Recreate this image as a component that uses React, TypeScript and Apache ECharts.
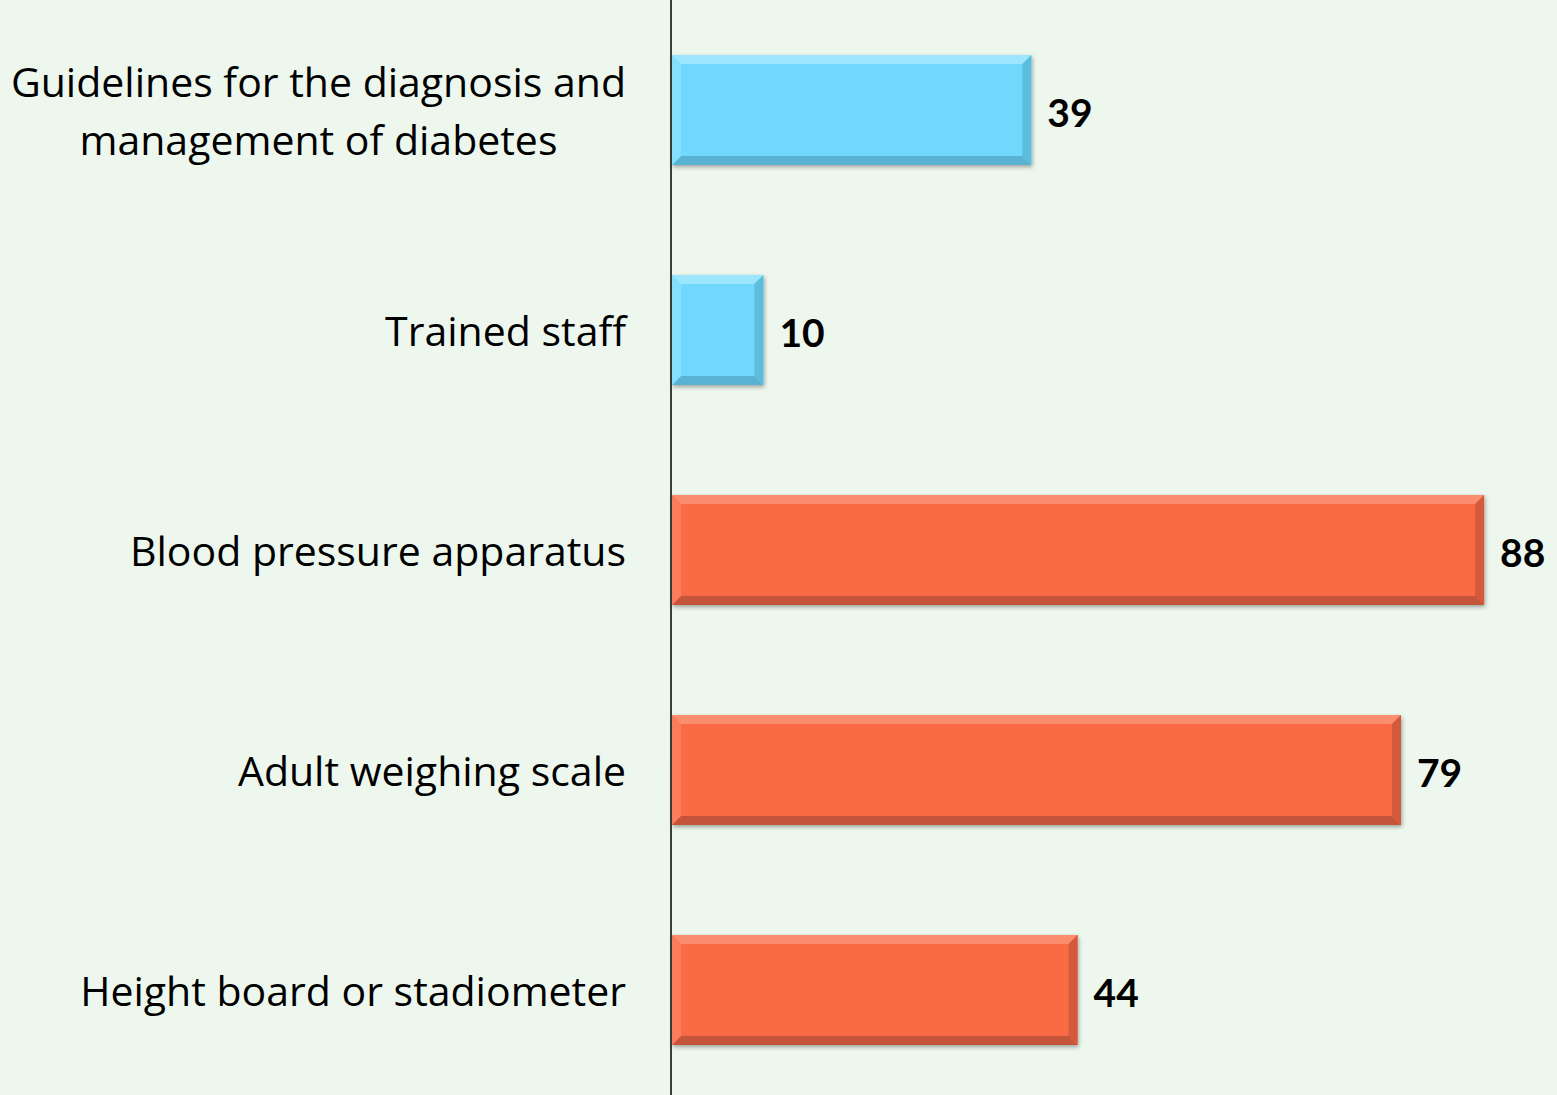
import React, { useEffect, useRef } from "react";
import * as echarts from "echarts";

const categories = [
  "Guidelines for the diagnosis and\nmanagement of diabetes",
  "Trained staff",
  "Blood pressure apparatus",
  "Adult weighing scale",
  "Height board or stadiometer",
];
const values = [39, 10, 88, 79, 44];
const groups = ["resource", "resource", "equipment", "equipment", "equipment"];

const palette: Record<string, { main: string; top: string; bottom: string; left: string; right: string }> = {
  resource: { main: "#70D8FC", top: "#9CE7FE", bottom: "#5AB2D3", left: "#84DFFD", right: "#5EBCDD" },
  equipment: { main: "#F96B45", top: "#FA8E6F", bottom: "#C4553B", left: "#FA7D5C", right: "#D35A3D" },
};

export default function App() {
  const ref = useRef<HTMLDivElement>(null);
  useEffect(() => {
    if (!ref.current) return;
    const chart = echarts.init(ref.current, null, { renderer: "svg" });
    const data = values.map((v, i) => [v, i, groups[i]]);
    chart.setOption({
      animation: false,
      backgroundColor: "#EDF7EE",
      grid: {
        left: 671,
        top: 0,
        width: 924,
        height: 1100,
        containLabel: false,
        outerBoundsMode: "none",
      },
      xAxis: {
        type: "value",
        min: 0,
        max: 100,
        show: false,
      },
      yAxis: {
        type: "category",
        data: categories,
        inverse: true,
        axisLine: { show: true, lineStyle: { color: "#000", width: 1.5 } },
        axisTick: { show: false },
        splitLine: { show: false },
        axisLabel: {
          margin: 45,
          color: "#000",
          fontFamily: "Open Sans",
          fontSize: 41,
          lineHeight: 58,
          formatter: (val: string) =>
            val
              .split("\n")
              .map((l) => `{c|${l}}`)
              .join("\n"),
          rich: {
            c: { align: "center", fontFamily: "Open Sans", fontSize: 41, lineHeight: 58, color: "#000" },
          },
        },
      },
      series: [
        {
          type: "custom",
          data,
          encode: { x: 0, y: 1 },
          clip: false,
          renderItem: (params: any, api: any) => {
            const v = api.value(0);
            const idx = api.value(1);
            const g = palette[groups[idx]];
            const p0 = api.coord([0, idx]);
            const p1 = api.coord([v, idx]);
            const h = api.size([0, 1])[1] * 0.5;
            const x0 = p0[0] + 1;
            const x1 = p1[0];
            const y0 = p0[1] - h / 2;
            const y1 = p0[1] + h / 2;
            const b = 9;
            return {
              type: "group",
              children: [
                {
                  type: "rect",
                  shape: { x: x0, y: y0, width: x1 - x0, height: y1 - y0 },
                  style: {
                    fill: g.main,
                    shadowBlur: 4,
                    shadowOffsetX: 1,
                    shadowOffsetY: 2,
                    shadowColor: "rgba(0,0,0,0.35)",
                  },
                },
                {
                  type: "polygon",
                  shape: { points: [[x0, y0], [x1, y0], [x1 - b, y0 + b], [x0 + b, y0 + b]] },
                  style: { fill: g.top },
                },
                {
                  type: "polygon",
                  shape: { points: [[x0, y1], [x1, y1], [x1 - b, y1 - b], [x0 + b, y1 - b]] },
                  style: { fill: g.bottom },
                },
                {
                  type: "polygon",
                  shape: { points: [[x0, y0], [x0 + b, y0 + b], [x0 + b, y1 - b], [x0, y1]] },
                  style: { fill: g.left },
                },
                {
                  type: "polygon",
                  shape: { points: [[x1, y0], [x1 - b, y0 + b], [x1 - b, y1 - b], [x1, y1]] },
                  style: { fill: g.right },
                },
                {
                  type: "text",
                  x: x1 + 16,
                  y: p0[1] + 2,
                  style: {
                    text: String(v),
                    fill: "#000",
                    font: "bold 39px Lato",
                    align: "left",
                    verticalAlign: "middle",
                  },
                },
              ],
            };
          },
        },
      ],
    });
    return () => chart.dispose();
  }, []);
  return (
    <div
      ref={ref}
      style={{ position: "fixed", left: 0, top: 0, width: 1557, height: 1095 }}
    />
  );
}
